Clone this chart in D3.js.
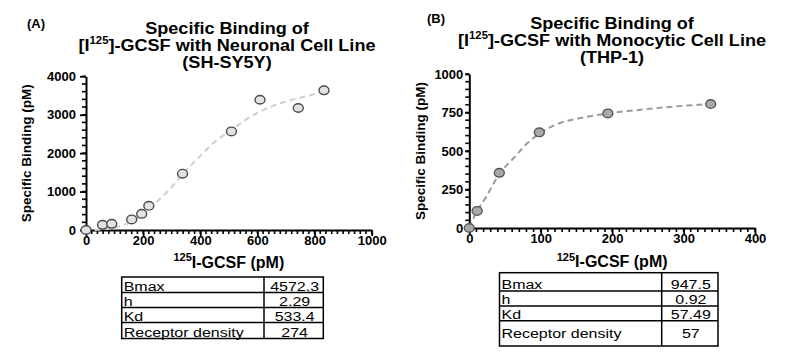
<!DOCTYPE html>
<html>
<head>
<meta charset="utf-8">
<script src="https://cdn.jsdelivr.net/npm/d3@7"></script>
<style>
  body { margin: 0; background: #fff; }
  svg { display: block; font-family: "Liberation Sans", Arial, sans-serif; }
</style>
</head>
<body>
<svg id="chart" width="800" height="354"></svg>
<script>
//
// Specific binding of [I125]-GCSF, two panels
//

// panel A - SH-SY5Y (neuronal)
var concA = [0, 58, 90, 160, 195, 220, 338, 509, 609, 743, 833];
var bindA = [0, 135, 160, 275, 420, 630, 1465, 2565, 3390, 3175, 3635];
var fitConcA = [30, 100, 160, 200, 250, 300, 338, 400, 450, 509, 574, 644, 714, 784, 833];
var fitBindA = [0, 70, 220, 430, 750, 1120, 1450, 1930, 2290, 2600, 2940, 3200, 3375, 3505, 3617];
var xTicksA = [0, 200, 400, 600, 800, 1000];
var yTicksA = [0, 1000, 2000, 3000, 4000];
var valuesA = ["4572.3", "2.29", "533.4", "274"];

// panel B - THP-1 (monocytic)
var concB = [0, 11, 42, 98, 194, 338];
var bindB = [0, 111, 358, 621, 744, 805];
var fitConcB = [0, 5, 11, 22, 42, 64, 80, 98, 120, 160, 194, 240, 290, 338];
var fitBindB = [0, 55, 112, 190, 350, 463, 545, 612, 669, 718, 744, 768, 790, 805];
var xTicksB = [0, 100, 200, 300, 400];
var yTicksB = [0, 250, 500, 750, 1000];
var valuesB = ["947.5", "0.92", "57.49", "57"];

var tableLabels = ["Bmax", "h", "Kd", "Receptor density"];

var svg = d3.select("#chart");

function addSup(sel, before, sup, after, size, supSize) {
	sel.append("tspan").attr("font-size", size).text(before);
	sel.append("tspan").attr("font-size", supSize).attr("dy", -size * 0.38).text(sup);
	sel.append("tspan").attr("font-size", size).attr("dy", size * 0.38).text(after);
}

function drawPanel(p) {
	var g = svg.append("g");

	var x = d3.scaleLinear().domain(p.xDomain).range([p.left, p.right]);
	var y = d3.scaleLinear().domain(p.yDomain).range([p.bottom, p.top]);

	// panel letter
	g.append("text")
		.attr("x", p.letterX).attr("y", p.letterY)
		.attr("font-size", 13).attr("font-weight", "bold")
		.text(p.letter);

	// title, three lines (slightly wide lettering like the original)
	g.append("text")
		.attr("transform", "translate(" + p.titleX + "," + p.titleY + ") scale(1.13,1)")
		.attr("text-anchor", "middle").attr("font-weight", "bold").attr("font-size", 16)
		.text("Specific Binding of");
	var t2 = g.append("text")
		.attr("transform", "translate(" + p.titleX + "," + (p.titleY + 17) + ") scale(1.13,1)")
		.attr("text-anchor", "middle").attr("font-weight", "bold");
	addSup(t2, "[I", "125", "]-GCSF with " + p.cellType + " Cell Line", 16, 10);
	g.append("text")
		.attr("transform", "translate(" + p.titleX + "," + (p.titleY + 34) + ") scale(1.13,1)")
		.attr("text-anchor", "middle").attr("font-weight", "bold").attr("font-size", 16)
		.text(p.cellLine);

	// minor ticks, drawn by hand off the scales
	g.append("g").selectAll("line")
		.data(d3.range(p.xDomain[0], p.xDomain[1] + 1e-9, p.xMinor))
		.enter()
		.append("line")
			.attr("x1", d => x(d)).attr("x2", d => x(d))
			.attr("y1", p.bottom).attr("y2", p.bottom + 4)
			.attr("stroke", "#000").attr("stroke-width", 1.6);
	g.append("g").selectAll("line")
		.data(d3.range(p.yDomain[0], p.yDomain[1] + 1e-9, p.yMinor))
		.enter()
		.append("line")
			.attr("y1", d => y(d)).attr("y2", d => y(d))
			.attr("x1", p.left).attr("x2", p.left - 4)
			.attr("stroke", "#000").attr("stroke-width", 1.6);

	// major axes
	var xAxis = g.append("g")
		.attr("transform", "translate(0," + p.bottom + ")")
		.call(d3.axisBottom(x).tickValues(p.xTicks).tickFormat(d3.format("d")).tickSize(6).tickSizeOuter(0).tickPadding(0));
	var yAxis = g.append("g")
		.attr("transform", "translate(" + p.left + ",0)")
		.call(d3.axisLeft(y).tickValues(p.yTicks).tickFormat(d3.format("d")).tickSize(p.yTickLen).tickSizeOuter(0).tickPadding(p.yPad));
	[xAxis, yAxis].forEach(function(a) {
		a.select(".domain").attr("stroke-width", 2);
		a.selectAll("line").attr("stroke-width", 1.8);
		a.selectAll("text")
			.attr("font-family", "Liberation Sans, Arial, sans-serif")
			.attr("font-size", 13).attr("font-weight", "bold").attr("fill", "#000");
	});

	// axis titles
	g.append("text")
		.attr("transform", "translate(" + p.yLabelX + "," + ((p.top + p.bottom) / 2) + ") rotate(-90)")
		.attr("text-anchor", "middle").attr("font-size", 13.5).attr("font-weight", "bold")
		.text("Specific Binding (pM)");
	var xl = g.append("text")
		.attr("x", (p.left + p.right) / 2).attr("y", p.xLabelY)
		.attr("text-anchor", "middle").attr("font-weight", "bold");
	addSup(xl, "", "125", "I-GCSF (pM)", 16, 11);

	// fitted curve
	var fit = p.fitX.map(function(d, i) { return {x: d, y: p.fitY[i]}; });
	g.append("path")
		.datum(fit)
		.attr("fill", "none")
		.attr("stroke", p.curveColor)
		.attr("stroke-width", 2)
		.attr("stroke-dasharray", "6,4")
		.attr("d", d3.line()
			.x(function(d) { return x(d.x); })
			.y(function(d) { return y(d.y); })
			.curve(d3.curveMonotoneX));

	// data points
	var pts = p.conc.map(function(d, i) { return {x: d, y: p.bind[i]}; });
	g.append("g").selectAll("ellipse")
		.data(pts)
		.enter()
		.append("ellipse")
			.attr("cx", function(d) { return x(d.x); })
			.attr("cy", function(d) { return y(d.y); })
			.attr("rx", 5).attr("ry", 4.3)
			.attr("fill", p.pointFill)
			.attr("stroke", p.pointStroke)
			.attr("stroke-width", 1.4);

	// parameter table
	var tb = g.append("g");
	var rows = p.rowEdges;
	tb.append("rect")
		.attr("x", p.tabLeft).attr("y", rows[0])
		.attr("width", p.tabRight - p.tabLeft).attr("height", rows[rows.length - 1] - rows[0])
		.attr("fill", "none").attr("stroke", "#000").attr("stroke-width", 1.5);
	tb.append("line")
		.attr("x1", p.tabDiv).attr("x2", p.tabDiv)
		.attr("y1", rows[0]).attr("y2", rows[rows.length - 1])
		.attr("stroke", "#000").attr("stroke-width", 1.5);
	tb.selectAll(".rowline")
		.data(rows.slice(1, -1))
		.enter()
		.append("line")
			.attr("x1", p.tabLeft).attr("x2", p.tabRight)
			.attr("y1", d => d).attr("y2", d => d)
			.attr("stroke", "#000").attr("stroke-width", 1.5);
	tableLabels.forEach(function(lab, i) {
		var base = rows[i + 1] - (i == 3 ? p.lastPad : 2);
		tb.append("text")
			.attr("transform", "translate(" + (p.tabLeft + 2) + "," + base + ") scale(1.28,1)")
			.attr("font-size", 12.5)
			.text(lab);
		tb.append("text")
			.attr("transform", "translate(" + ((p.tabDiv + p.tabRight) / 2 + 1) + "," + base + ") scale(1.28,1)")
			.attr("text-anchor", "middle")
			.attr("font-size", 12.5)
			.text(p.values[i]);
	});
}

drawPanel({
	letter: "(A)", letterX: 27, letterY: 28,
	titleX: 227, titleY: 33.5,
	cellType: "Neuronal", cellLine: "(SH-SY5Y)",
	xDomain: [0, 1000], yDomain: [0, 4000],
	left: 86, right: 371.7, bottom: 230, top: 76.3,
	xTicks: xTicksA, yTicks: yTicksA, xMinor: 20, yMinor: 200,
	yTickLen: 6, yPad: 4,
	yLabelX: 31, xLabelY: 267.5,
	conc: concA, bind: bindA, fitX: fitConcA, fitY: fitBindA,
	curveColor: "#cfcfcf", pointFill: "#e2e2e2", pointStroke: "#4a4a4a",
	tabLeft: 121.7, tabDiv: 264, tabRight: 323.3,
	rowEdges: [277, 292.5, 307.5, 322.5, 338.5], lastPad: 2,
	values: valuesA
});

drawPanel({
	letter: "(B)", letterX: 427, letterY: 23,
	titleX: 612, titleY: 28.5,
	cellType: "Monocytic", cellLine: "(THP-1)",
	xDomain: [0, 400], yDomain: [0, 1000],
	left: 469.3, right: 755, bottom: 228, top: 74,
	xTicks: xTicksB, yTicks: yTicksB, xMinor: 10, yMinor: 50,
	yTickLen: 4, yPad: 2,
	yLabelX: 424.5, xLabelY: 267,
	conc: concB, bind: bindB, fitX: fitConcB, fitY: fitBindB,
	curveColor: "#9a9a9a", pointFill: "#a8a8a8", pointStroke: "#555",
	tabLeft: 499.5, tabDiv: 661.7, tabRight: 718,
	rowEdges: [272.7, 291, 306, 320.7, 346], lastPad: 8,
	values: valuesB
});
</script>
</body>
</html>
